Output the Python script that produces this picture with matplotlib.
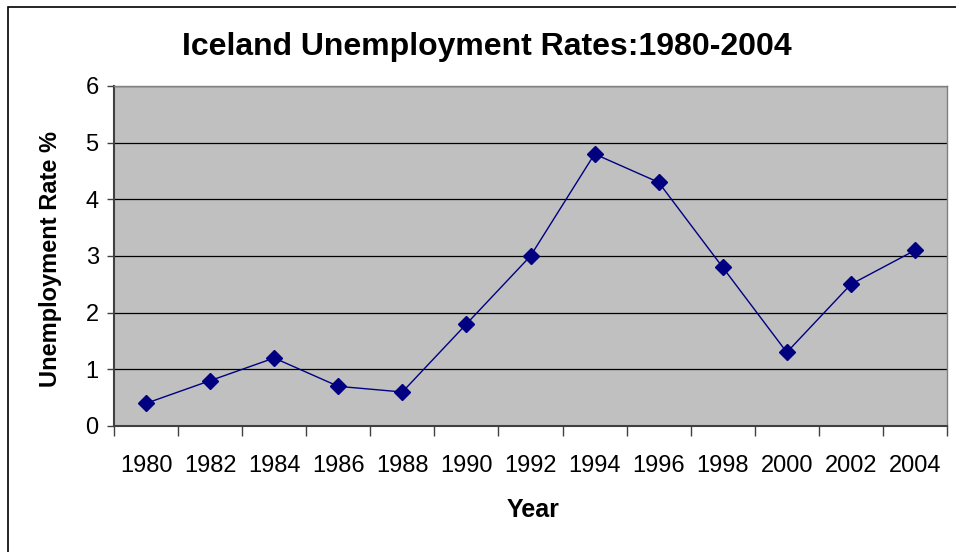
import matplotlib.pyplot as plt
import numpy as np
from matplotlib.patches import Rectangle

plt.rcParams['font.family'] = ['Liberation Sans', 'DejaVu Sans']

years = ["1980", "1982", "1984", "1986", "1988", "1990", "1992",
         "1994", "1996", "1998", "2000", "2002", "2004"]
rates = [0.4, 0.8, 1.2, 0.7, 0.6, 1.8, 3.0, 4.8, 4.3, 2.8, 1.3, 2.5, 3.1]

W, H = 956, 552
fig = plt.figure(figsize=(W / 100, H / 100), dpi=100)

# outer chart frame
fig.patches.append(Rectangle((8 / W, -0.1), 1.2, 1.1 - 7 / H, transform=fig.transFigure,
                             fill=False, edgecolor='black', linewidth=1.2))

ax = fig.add_axes([114 / W, 1 - 426 / H, (947 - 114) / W, (426 - 86) / H])
ax.set_facecolor('#C0C0C0')

x = np.arange(len(years))
ax.plot(x, rates, color='#000080', linewidth=1.0, marker='D', markersize=8,
        markerfacecolor='#000080', markeredgecolor='#000080', zorder=3)

ax.set_xlim(-0.5, len(years) - 0.5)
ax.set_ylim(0, 6)
ax.set_yticks(range(7))
ax.yaxis.grid(True, color='black', linewidth=0.9)
ax.set_axisbelow(True)

ax.set_xticks(x)
ax.set_xticklabels(years)
ax.set_xticks(np.arange(-0.5, len(years)), minor=True)
ax.tick_params(axis='x', which='major', length=0, pad=21, labelsize=17)
ax.tick_params(axis='x', which='minor', length=7, width=1.0, color='#404040', direction='out')
ax.tick_params(axis='y', length=5, width=1.0, color='#404040', labelsize=17, pad=6)

for side in ('top', 'right'):
    ax.spines[side].set_color('#808080')
    ax.spines[side].set_linewidth(1.0)
for side in ('left', 'bottom'):
    ax.spines[side].set_color('#404040')
    ax.spines[side].set_linewidth(1.5)

fig.text(487 / W, 1 - 47 / H, "Iceland Unemployment Rates:1980-2004", ha='center', va='center',
         fontsize=23, fontweight='bold')
fig.text(533 / W, 1 - 510 / H, "Year", ha='center', va='center', fontsize=18,
         fontweight='bold')
fig.text(51 / W, 1 - 259 / H, "Unemployment Rate %", ha='center', va='center', rotation=90,
         fontsize=17, fontweight='bold')

fig.savefig('out.png', dpi=100)
